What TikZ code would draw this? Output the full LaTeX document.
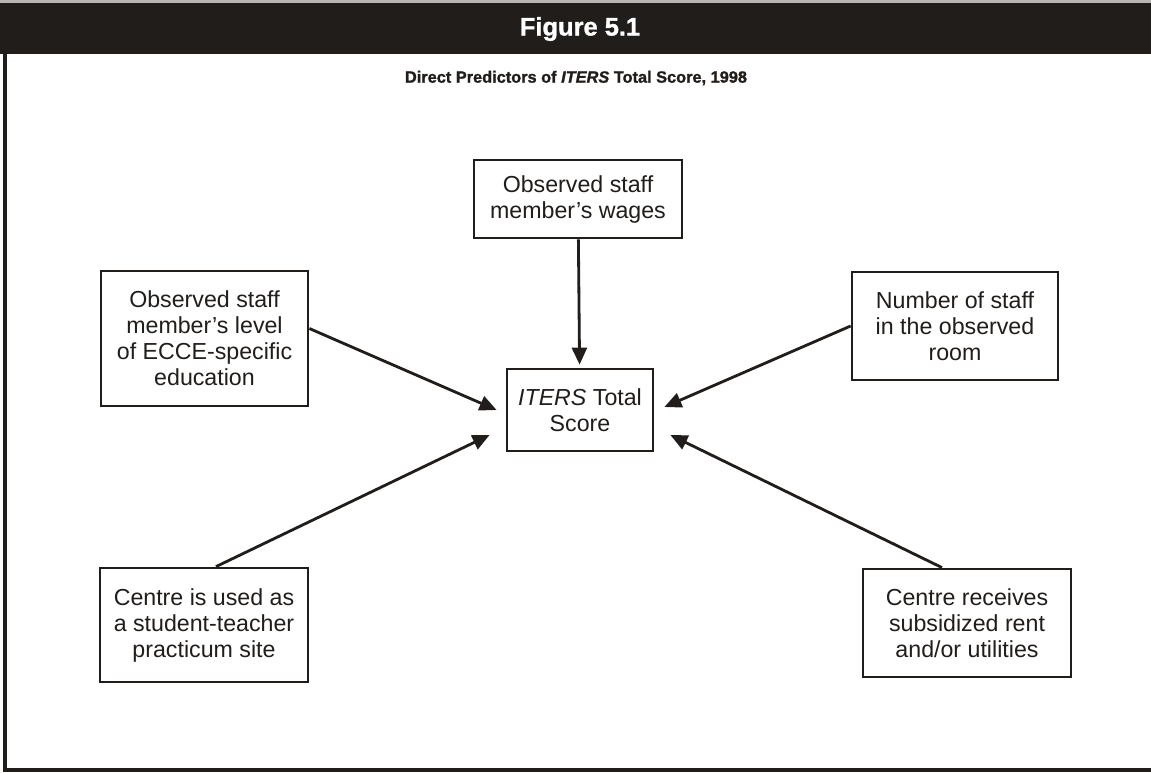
\documentclass[tikz,border=0pt]{standalone}
\usepackage{fontspec}
\setmainfont{Liberation Sans}
\newfontfamily\heavyfont{Liberation Sans}[UprightFont=*-Bold,ItalicFont=*-Bold Italic,FakeBold=1.2]
\usetikzlibrary{arrows.meta,positioning,calc}
\definecolor{ink}{HTML}{211D1A}
\definecolor{rule}{HTML}{B8B6B2}
\tikzset{
  box/.style={draw=ink,line width=1.6pt,fill=white,align=center,inner sep=0pt,font=\fontsize{13.2}{14.8}\selectfont,text=ink},
  flow/.style={-{Triangle[length=0.34cm,width=0.3cm]},line width=1.6pt,draw=ink},
  frame/.style={draw=ink,line width=1.8pt}
}

\begin{document}
\begin{tikzpicture}[x=0.02cm,y=-0.02cm]
    \useasboundingbox (0,0) rectangle (1151,772);
    % header band and frame
    \fill[rule] (0,0) rectangle (1151,3);
    \fill[ink] (0,3) rectangle (1151,54);
    \draw[frame] (5,54) -- (5,770) -- (1151,770);
    \node[text=white,font=\fontsize{14.5}{16}\heavyfont] (fig) at (580,29) {Figure 5.1};
    \node[text=ink,font=\fontsize{9.3}{11}\heavyfont] (title) at (576,78) {Direct Predictors of \textit{ITERS} Total Score, 1998};

    % predictors
    \node[box,minimum width=4.16cm,minimum height=1.56cm] (wages) at (578,199) {Observed staff\\member’s wages};
    \node[box,minimum width=2.92cm,minimum height=1.64cm] (score) at (580,410) {\textit{ITERS} Total\\Score};
    \node[box,minimum width=4.14cm,minimum height=2.7cm] (edu) at (204.5,338.5) {Observed staff\\member’s level\\of ECCE-specific\\education};
    \node[box,minimum width=4.12cm,minimum height=2.16cm] (staff) at (955,326) {Number of staff\\in the observed\\room};
    \node[box,minimum width=4.16cm,minimum height=2.28cm] (site) at (204,625) {Centre is used as\\a student-teacher\\practicum site};
    \node[box,minimum width=4.16cm,minimum height=2.16cm] (rent) at (967,623) {Centre receives\\subsidized rent\\and/or utilities};

    \coordinate (inW) at ($(score.west)+(-9,0)$);
    \coordinate (inSW) at ($(score.west)+(-16,25)$);
    \coordinate (inE) at ($(score.east)+(10,-3)$);
    \coordinate (inSE) at ($(score.east)+(16,25)$);

    \draw[flow,shorten >=0.06cm] (wages) -- (score);
    \draw[flow] ($(edu.east)+(0,-10)$) -- (inW);
    \draw[flow] (staff.west) -- (inE);
    \draw[flow] ($(site.north)+(12,0)$) -- (inSW);
    \draw[flow] ($(rent.north)+(-25,0)$) -- (inSE);
\end{tikzpicture}
\end{document}
